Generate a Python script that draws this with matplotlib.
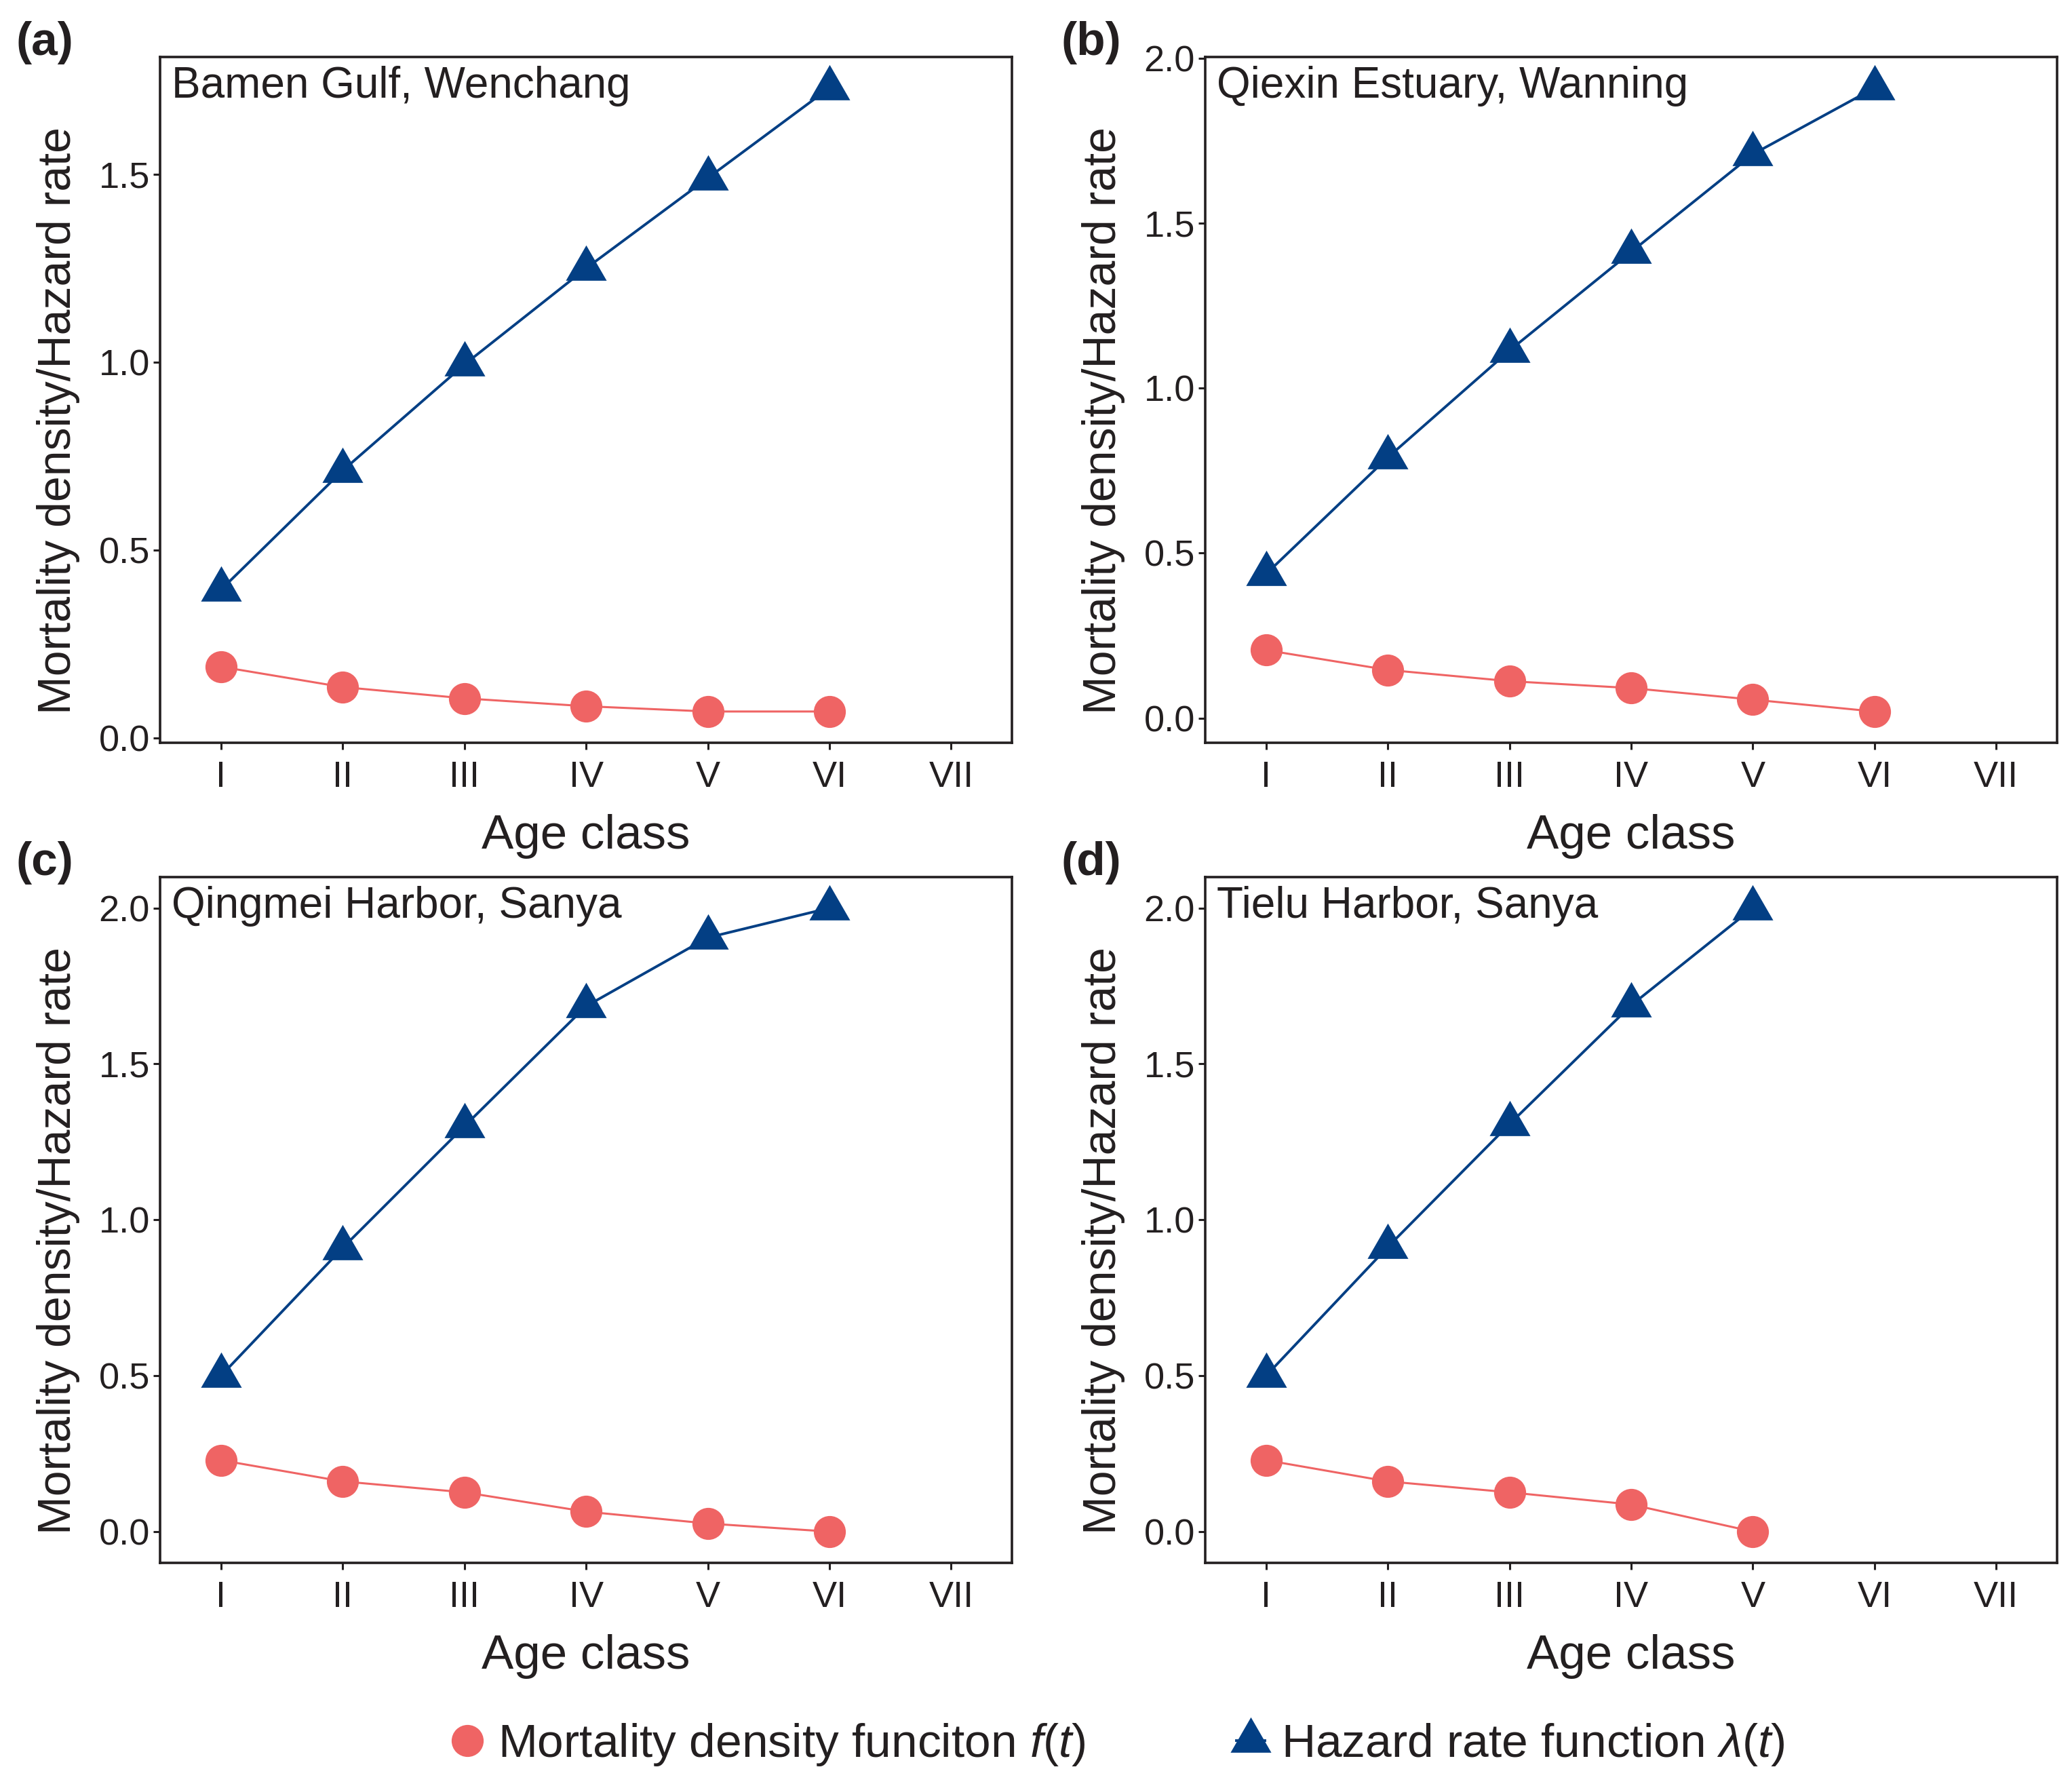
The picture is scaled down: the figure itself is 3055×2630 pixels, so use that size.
import numpy as np
import matplotlib.pyplot as plt
from matplotlib.lines import Line2D

plt.rcParams['font.family'] = ['Liberation Sans', 'DejaVu Sans']
plt.rcParams['mathtext.fontset'] = 'custom'
plt.rcParams['mathtext.it'] = 'Liberation Sans:italic'
plt.rcParams['mathtext.rm'] = 'Liberation Sans'

age_classes = ['I', 'II', 'III', 'IV', 'V', 'VI', 'VII']
panel_tags = ['(a)', '(b)', '(c)', '(d)']
sites = ['Bamen Gulf, Wenchang', 'Qiexin Estuary, Wanning',
         'Qingmei Harbor, Sanya', 'Tielu Harbor, Sanya']

# mortality density f(t)
density_a = [0.19, 0.136, 0.106, 0.085, 0.071, 0.071]
density_b = [0.206, 0.146, 0.112, 0.091, 0.056, 0.02]
density_c = [0.229, 0.161, 0.126, 0.064, 0.026, 0.0]
density_d = [0.229, 0.161, 0.126, 0.087, 0.0]

# hazard rate lambda(t)
hazard_a = [0.395, 0.712, 0.994, 1.25, 1.49, 1.73]
hazard_b = [0.437, 0.79, 1.114, 1.413, 1.709, 1.91]
hazard_c = [0.50, 0.91, 1.30, 1.685, 1.905, 2.0]
hazard_d = [0.50, 0.913, 1.307, 1.688, 2.0]

densities = [density_a, density_b, density_c, density_d]
hazards = [hazard_a, hazard_b, hazard_c, hazard_d]

ink = '#231f20'
red = '#ef6464'
blue = '#033f84'
tri = [(-1, -0.577), (1, -0.577), (0, 1.155)]

fig = plt.figure(figsize=(30.55, 26.3), dpi=100)

lefts = [0.0773, 0.5817, 0.0773, 0.5817]
bottoms = [0.5837, 0.5837, 0.124, 0.124]
w, h = 0.4111, 0.3845

for i in range(4):
    ax = fig.add_axes([lefts[i], bottoms[i], w, h])
    d = densities[i]
    hz = hazards[i]
    xd = np.arange(1, len(d) + 1)
    xh = np.arange(1, len(hz) + 1)
    ax.plot(xd, d, color=red, lw=2.2, marker='o', ms=34, mew=0)
    ax.plot(xh, hz, color=blue, lw=2.8, marker=tri, ms=50, mew=0)

    lo = min(min(d), min(hz))
    hi = max(max(d), max(hz))
    pad = 0.05 * (hi - lo)
    ax.set_ylim(lo - pad, hi + pad)
    ax.set_xlim(0.5, 7.5)
    ax.set_xticks(np.arange(1, 8))
    ax.set_xticklabels(age_classes)
    yt = np.arange(0, hi + pad + 1e-9, 0.5)
    ax.set_yticks(yt)
    ax.set_yticklabels(['%.1f' % v for v in yt])

    ax.tick_params(axis='both', labelsize=39, colors=ink, length=7, width=2.2, direction='out')
    ax.tick_params(axis='x', pad=12)
    ax.tick_params(axis='y', pad=4)
    for s in ax.spines.values():
        s.set_linewidth(2.6)
        s.set_color(ink)

    ax.set_xlabel('Age class', fontsize=51, color=ink, labelpad=21)
    ax.set_ylabel('Mortality density/Hazard rate', fontsize=49, color=ink)
    ax.yaxis.set_label_coords(-0.094, 0.47)
    ax.text(0.0138, 0.957, sites[i], transform=ax.transAxes, fontsize=46,
            color=ink, ha='left', va='center')

    fig.text(lefts[i] - 0.0696, bottoms[i] + h + 0.0077, panel_tags[i], fontsize=50,
             fontweight='bold', color=ink, ha='left', va='center')

handles = [
    Line2D([0], [0], color=red, lw=2.2, marker='o', ms=34, mew=0),
    Line2D([0], [0], color=blue, lw=2.8, marker=tri, ms=50, mew=0),
]
labels = [r'Mortality density funciton $\mathit{f(t)}$',
          r'Hazard rate function $\mathit{\lambda(t)}$']
leg = fig.legend(handles, labels, loc='center', bbox_to_anchor=(0.540, 0.022), ncol=2,
                 frameon=False, fontsize=50, handlelength=0.6, handletextpad=0.35,
                 columnspacing=3.2)
for t in leg.get_texts():
    t.set_color(ink)

fig.savefig('out.png', dpi=100, facecolor='white')
